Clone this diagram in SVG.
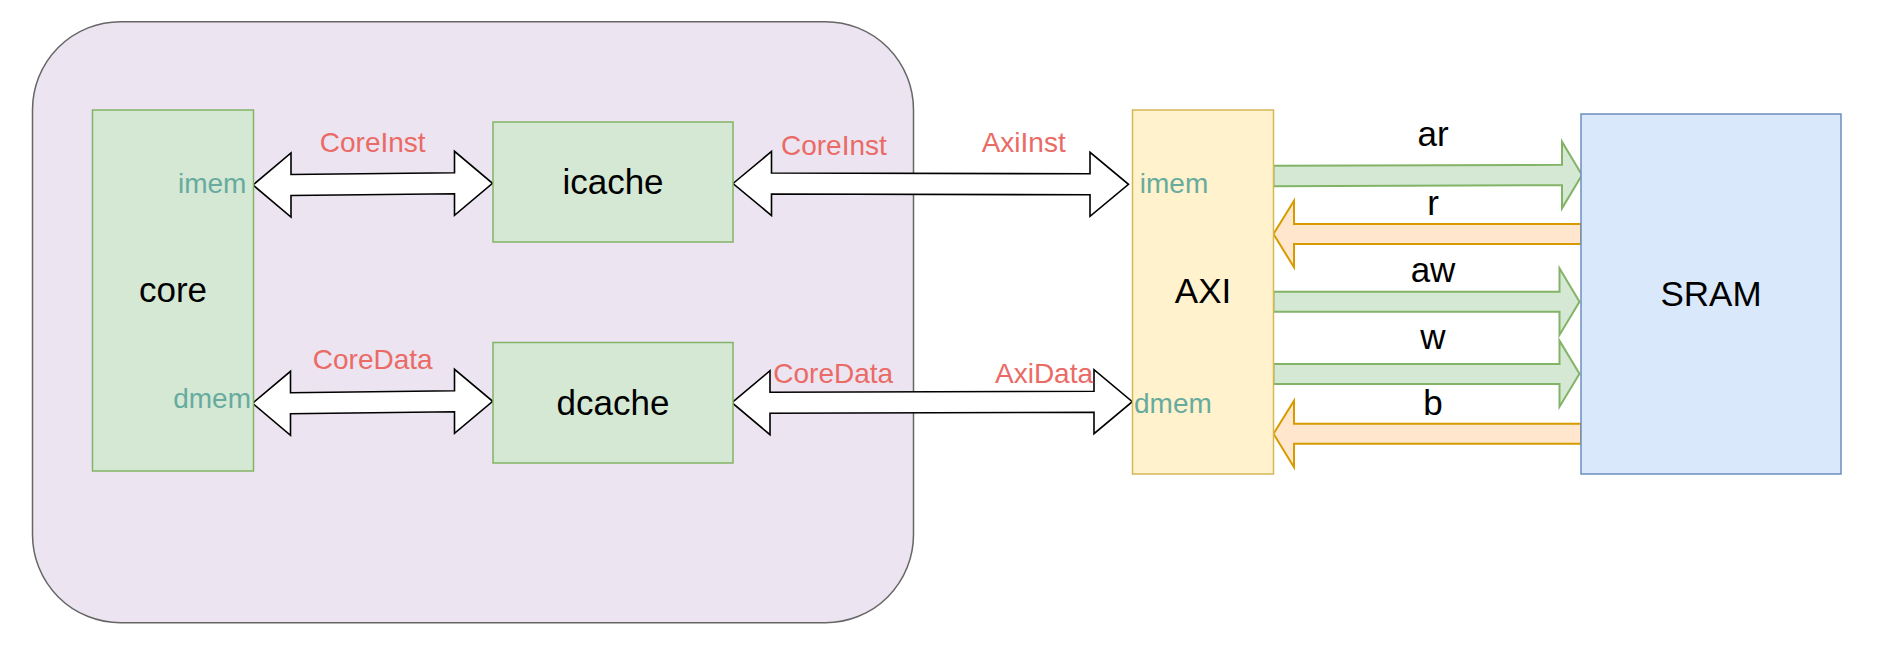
<svg xmlns="http://www.w3.org/2000/svg" width="1882" height="652" viewBox="0 0 1882 652">
<style>
.t{font-family:"Liberation Sans",Arial,sans-serif;}
.big{font-size:35px;fill:#000;text-anchor:middle;}
.red{font-size:28px;fill:#EA6B66;}
.teal{font-size:28px;fill:#67AB9F;}
.sig{font-size:35px;fill:#000;text-anchor:middle;}
.green{fill:#d5e8d4;stroke:#82b366;stroke-width:1.5;}
.yellow{fill:#fff2cc;stroke:#d6b656;stroke-width:1.5;}
.blue{fill:#dae8fc;stroke:#6c8ebf;stroke-width:1.5;}
.dbl{fill:#ffffff;stroke:#000;stroke-width:1.6;stroke-linejoin:miter;}
.ga{fill:#d5e8d4;stroke:#82b366;stroke-width:2;}
.oa{fill:#ffe6cc;stroke:#d79b00;stroke-width:2;}
</style>
<rect width="1882" height="652" fill="#ffffff"/>
<g id="container">
<rect x="32.5" y="21.7" width="881" height="601" rx="88" ry="88" fill="#ece4f0" stroke="#666666" stroke-width="1.5"/>
</g>
<g id="connectors">
<polygon class="dbl" points="253,185 291,153 291,174.5 454.5,172.8 454.5,151.3 492.5,183.3 454.5,215.3 454.5,193.8 291,195.5 291,217"/>
<polygon class="dbl" points="733,183.5 771.5,151.5 771.5,173 1090,173.8 1090,152.3 1128.5,184.3 1090,216.3 1090,194.8 771.5,194 771.5,215.5"/>
<polygon class="dbl" points="252.5,403.3 290.5,371.3 290.5,392.8 454.5,390.8 454.5,369.3 492.7,401.3 454.5,433.3 454.5,411.8 290.5,413.8 290.5,435.3"/>
<polygon class="dbl" points="732,402.7 770,370.7 770,392.2 1094,391.2 1094,369.7 1132.3,401.7 1094,433.7 1094,412.2 770,413.2 770,434.7"/>
<polygon class="ga" points="1273.5,165.8 1562,164.8 1562,141.7 1582,175 1562,208.3 1562,185.2 1273.5,186.2"/>
<polygon class="oa" points="1581,224 1294,224 1294,200.7 1273.5,234 1294,267.3 1294,244 1581,244"/>
<polygon class="ga" points="1273.5,291.7 1559.5,291.7 1559.5,268.3 1579.5,301.7 1559.5,335 1559.5,311.7 1273.5,311.7"/>
<polygon class="ga" points="1273.5,364 1559.5,364 1559.5,340.7 1579.5,373.7 1559.5,406.7 1559.5,384 1273.5,384"/>
<polygon class="oa" points="1581,423.7 1294,423.7 1294,400.7 1273.5,433.7 1294,467.3 1294,443.7 1581,443.7"/>
<text class="t red" x="372.7" y="151.7" text-anchor="middle">CoreInst</text>
<text class="t red" x="781" y="155">CoreInst</text>
<text class="t red" x="981.7" y="151.7">AxiInst</text>
<text class="t red" x="372.7" y="368.8" text-anchor="middle">CoreData</text>
<text class="t red" x="773.3" y="383.3">CoreData</text>
<text class="t red" x="995" y="383.3">AxiData</text>
<text class="t sig" x="1433" y="146">ar</text>
<text class="t sig" x="1433" y="215">r</text>
<text class="t sig" x="1433" y="281.7">aw</text>
<text class="t sig" x="1433" y="349.3">w</text>
<text class="t sig" x="1433" y="415">b</text>
</g>
<g id="core">
<rect class="green" x="92.5" y="110" width="161" height="361"/>
<text class="t big" x="173" y="302">core</text>
<text class="t teal" x="246.4" y="193.3" text-anchor="end">imem</text>
<text class="t teal" x="251" y="408" text-anchor="end">dmem</text>
</g>
<g id="icache">
<rect class="green" x="493" y="122" width="240" height="120"/>
<text class="t big" x="613" y="194">icache</text>
</g>
<g id="dcache">
<rect class="green" x="493" y="342.5" width="240" height="120.5"/>
<text class="t big" x="613" y="414.6">dcache</text>
</g>
<g id="axi">
<rect class="yellow" x="1132.5" y="110" width="141" height="364"/>
<text class="t big" x="1203" y="303.3">AXI</text>
<text class="t teal" x="1139.8" y="193.3">imem</text>
<text class="t teal" x="1134" y="412.7">dmem</text>
</g>
<g id="sram">
<rect class="blue" x="1581" y="114" width="260" height="360"/>
<text class="t big" x="1711" y="305.7">SRAM</text>
</g>
</svg>
